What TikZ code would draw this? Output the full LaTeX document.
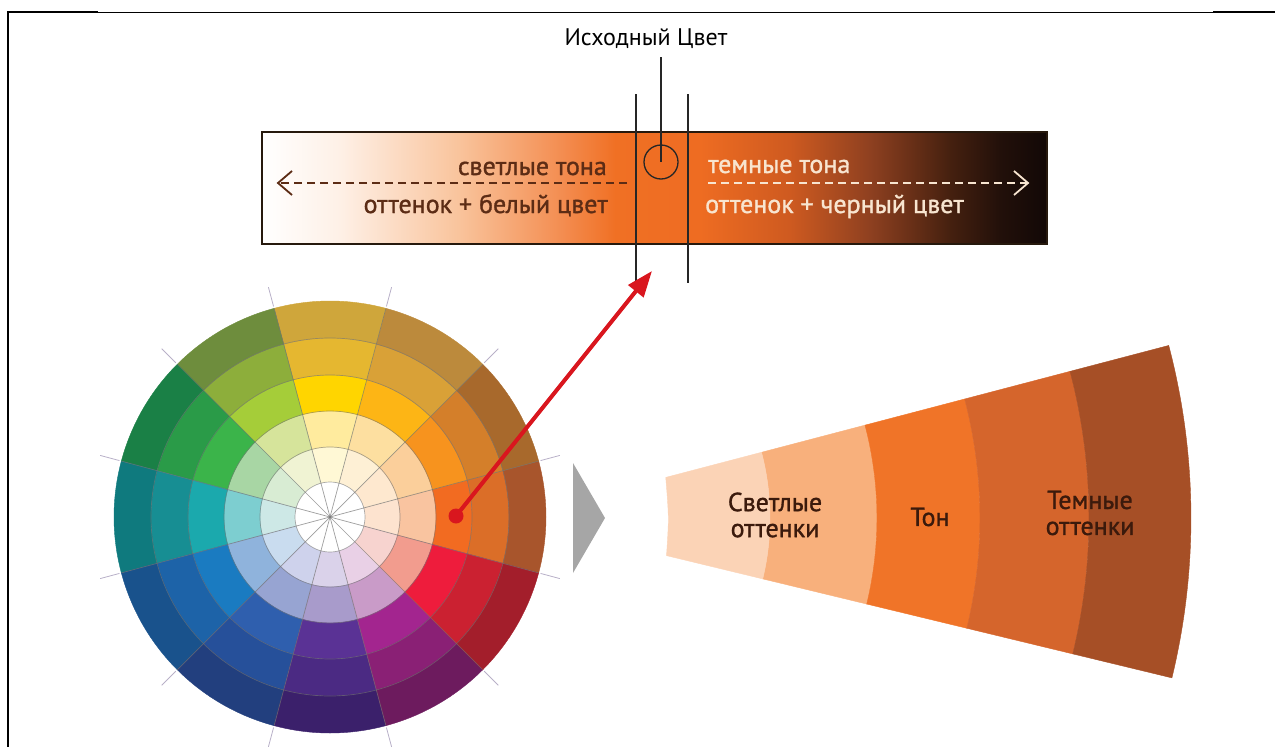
\documentclass[tikz,border=0pt]{standalone}
\usepackage{fontspec}
\setmainfont{PT Sans}
\newfontfamily\semib[FakeBold=1.2]{PT Sans}
\usetikzlibrary{arrows.meta}
\definecolor{ltxt}{HTML}{5C2C15}
\definecolor{dtxt}{HTML}{F8E5D0}
\definecolor{fantxt}{HTML}{3B1A0C}
\definecolor{redarr}{HTML}{D9161E}
\definecolor{tickc}{HTML}{B8B0C8}
\definecolor{triang}{HTML}{A6A6A6}
\begin{document}
\begin{tikzpicture}[x=1pt,y=-1pt,
  frame/.style={line width=2.4pt,black},
  thinframe/.style={line width=1pt,black},
  vline/.style={line width=1.4pt,black!85},
  bartext/.style={font=\semib\fontsize{26}{30}\selectfont,inner sep=0pt},
  fantext/.style={font=\semib\fontsize{26}{26}\selectfont,text=fantxt,align=center,inner sep=0pt},
  dashline/.style={line width=1.8pt,dash pattern=on 8pt off 5pt},
  barb/.style={line width=1.8pt},
  divline/.style={line width=0.7pt,black!55,opacity=0.7},
  ringline/.style={line width=0.7pt,black!55,opacity=0.6},
  tickline/.style={line width=0.8pt,tickc},
  reddot/.style={circle,fill=redarr,minimum size=15pt,inner sep=0pt},
  redarrow/.style={line width=4pt,redarr,-{Triangle[length=26pt,width=19pt]}},
  srcring/.style={circle,draw=black!85,line width=1.3pt,minimum size=34pt,inner sep=0pt}
]
\useasboundingbox (0,0) rectangle (1275,747);

% frame
\draw[frame] (7,12) -- (98,12);
\draw[thinframe] (98,12) -- (1213,12);
\draw[frame] (1213,12) -- (1275,12);
\draw[frame] (8,11) -- (8,747);

% gradient bar
\shade[left color=white, right color={rgb,255:red,254;green,240;blue,230}] (262,132) rectangle (340.5,244);
\shade[left color={rgb,255:red,254;green,240;blue,230}, right color={rgb,255:red,249;green,195;blue,155}] (340,132) rectangle (460.5,244);
\shade[left color={rgb,255:red,249;green,195;blue,155}, right color={rgb,255:red,243;green,139;blue,78}] (460,132) rectangle (565.5,244);
\shade[left color={rgb,255:red,243;green,139;blue,78}, right color={rgb,255:red,240;green,112;blue,36}] (565,132) rectangle (615.5,244);
\shade[left color={rgb,255:red,240;green,112;blue,36}, right color={rgb,255:red,238;green,108;blue,34}] (615,132) rectangle (700.5,244);
\shade[left color={rgb,255:red,238;green,108;blue,34}, right color={rgb,255:red,206;green,90;blue,32}] (700,132) rectangle (790.5,244);
\shade[left color={rgb,255:red,206;green,90;blue,32}, right color={rgb,255:red,142;green,64;blue,32}] (790,132) rectangle (870.5,244);
\shade[left color={rgb,255:red,142;green,64;blue,32}, right color={rgb,255:red,69;green,32;blue,15}] (870,132) rectangle (950.5,244);
\shade[left color={rgb,255:red,69;green,32;blue,15}, right color={rgb,255:red,34;green,16;blue,10}] (950,132) rectangle (1000.5,244);
\shade[left color={rgb,255:red,34;green,16;blue,10}, right color={rgb,255:red,18;green,8;blue,6}] (1000,132) rectangle (1047,244);
\node[draw=black!80!brown,line width=1.3pt,minimum width=785pt,minimum height=112pt,inner sep=0pt] (bar) at (654.5,188) {};

% bar texts
\node[bartext,text=ltxt,anchor=base east] (lt1) at (607,175) {светлые тона};
\node[bartext,text=ltxt,anchor=base east] (lt2) at (608,213) {оттенок + белый цвет};
\node[bartext,text=dtxt,anchor=base west] (dt1) at (708,173) {темные тона};
\node[bartext,text=dtxt,anchor=base west] (dt2) at (705,213) {оттенок + черный цвет};

% dashed arrows
\coordinate (lstart) at (627,183);
\coordinate (lend) at (278,183);
\draw[dashline,ltxt] (lstart) -- (lend);
\draw[barb,ltxt] (292,171) -- (lend) -- (292,195);
\coordinate (rstart) at (708,183);
\coordinate (rend) at (1028,183);
\draw[dashline,dtxt] (rstart) -- (rend);
\draw[barb,dtxt] (1014,171) -- (rend) -- (1014,195);

% title and markers
\node[font=\fontsize{24}{28}\selectfont,inner sep=0pt,anchor=base] (title) at (646,45) {Исходный Цвет};
\node[srcring] (src) at (661,162) {};
\coordinate (srctop) at (661,57);
\draw[vline] (srctop) -- (src.center);
\coordinate (v1t) at (636,94);
\coordinate (v1b) at (636,288);
\coordinate (v2t) at (688,94);
\coordinate (v2b) at (688,283);
\draw[vline] (v1t) -- (v1b);
\draw[vline] (v2t) -- (v2b);

% colour wheel
\begin{scope}[shift={(330,517)},y=1pt]
\foreach \a/\ca/\cb/\cc/\cd/\ce in {
  0/FDE3CF/F9C4A0/F26B21/DB6E28/A8552C,
  30/FEE8CF/FBCF9B/F7931E/D47F2A/A8692C,
  60/FEF0D5/FDDFA0/FDB515/D9A137/BC8A3C,
  90/FFF8D5/FFEB9E/FFD500/E5B730/CFA63B,
  120/F0F3D3/D6E49B/A5CD39/8DAE3B/6E8D3D,
  150/D8ECD3/A8D6A4/3BB44A/2A9B48/1A8046,
  180/CDE8E6/7DCED0/1BA9AD/178E93/0F7A7E,
  210/C9DCEF/8FB3DC/1A7BC1/1D63A8/19528C,
  240/CED2EC/97A4D2/2F5FAE/26509A/223F7E,
  270/DAD2EA/A89BCB/5A3295/4B2A83/3B206B,
  300/E9D0E6/C99BC8/A3258F/8A2075/6D1B5E,
  330/F7D3CF/F29C8E/EE1C3C/CB2131/A31E2B}{
  \pgfmathsetmacro\as{\a-15}
  \pgfmathsetmacro\ae{\a+15}
  \foreach \ri/\ro/\hx in {35/70/\ca,70/106/\cb,106/142/\cc,142/179/\cd,179/216/\ce}{
    \edef\hxx{\hx}
    \definecolor{tmpc}{HTML}{\hxx}
    \fill[tmpc,draw=tmpc,line width=0.4pt] (\as:\ri pt) arc[start angle=\as, end angle=\ae, radius=\ri pt]
      -- (\ae:\ro pt) arc[start angle=\ae, end angle=\as, radius=\ro pt] -- cycle;
  }
}
\fill[white] (0,0) circle[radius=35pt];
\foreach \r in {35,70,106,142,179}{
  \draw[ringline] (0,0) circle[radius=\r pt];
}
\foreach \k in {0,...,11}{
  \pgfmathsetmacro\bb{15+30*\k}
  \draw[divline] (0,0) -- (\bb:216pt);
  \draw[tickline] (\bb:218pt) -- (\bb:238pt);
}
\end{scope}

% red arrow
\node[reddot] (dot) at (456,516) {};
\coordinate (tip) at (652,271);
\draw[redarrow] (dot.center) -- (tip);

% grey triangle
\fill[triang] (573,463) -- (573,573) -- (605,518) -- cycle;

% fan
\begin{scope}[shift={(511,518)},y=1pt]
\foreach \ri/\ro/\hx in {259/366/F8B07C,366/469/F07428,469/578/D5652C,578/680/A64F26}{
  \definecolor{tmpc}{HTML}{\hx}
  \fill[tmpc,draw=tmpc,line width=0.4pt] (-13.6:\ri pt) arc[start angle=-13.6, end angle=14.7, radius=\ri pt]
    -- (14.7:\ro pt) arc[start angle=14.7, end angle=-13.6, radius=\ro pt] -- cycle;
}
\definecolor{tmpc}{HTML}{FBD3B6}
\fill[tmpc,draw=tmpc,line width=0.4pt] (-13.6:259pt) arc[start angle=-13.6, end angle=14.7, radius=259pt]
  -- (14.7:160pt) .. controls (158pt,0pt) .. (-13.6:160pt) -- cycle;
\end{scope}
\node[fantext] (light) at (775,515) {Светлые\\оттенки};
\node[fantext] (tone) at (930,517) {Тон};
\node[fantext] (dark) at (1090,513) {Темные\\оттенки};
\end{tikzpicture}
\end{document}
